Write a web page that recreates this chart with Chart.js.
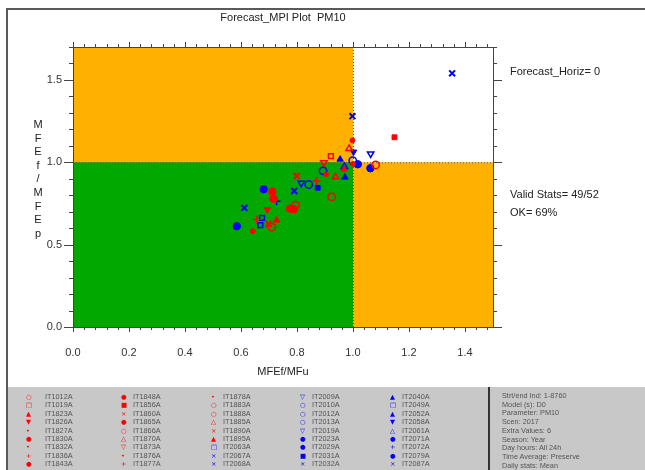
<!DOCTYPE html>
<html>
<head>
<meta charset="utf-8">
<script src="https://cdn.jsdelivr.net/npm/chart.js@4.4.0/dist/chart.umd.min.js"></script>
<style>
  body { margin: 0; background: #fff; font-family: "Liberation Sans", Arial, sans-serif; }
  #wrap { position: relative; width: 645px; height: 470px; overflow: hidden; background: #fff; }
  #myChart { position: absolute; left: 0; top: 0; }
  .txt { position: absolute; font-size: 11px; color: #222; white-space: nowrap; }
  #frameL { position: absolute; left: 6px; top: 8px; width: 2px; height: 462px; background: #5a5a5a; }
  #frameT { position: absolute; left: 6px; top: 8px; width: 639px; height: 2px; background: #5a5a5a; }
  #legendBox { position: absolute; left: 8px; top: 387px; width: 637px; height: 83px; background: #c8c8c8; }
  #divider { position: absolute; left: 488px; top: 387px; width: 2px; height: 83px; background: #333; }
  .lg { position: absolute; font-size: 7.3px; color: #555; line-height: 8px; white-space: nowrap; }
  .mk { position: absolute; font-family: "DejaVu Sans", sans-serif; font-size: 6.5px; line-height: 8px; }
</style>
</head>
<body>
<div id="wrap">
  <canvas id="myChart" width="645" height="385"></canvas>
  <div id="frameL"></div>
  <div id="frameT"></div>
  <div class="txt" style="left:0;width:566px;text-align:center;top:11px;">Forecast_MPI Plot&nbsp; PM10</div>
  <div class="txt" style="left:32px;width:12px;text-align:center;top:118px;line-height:13.6px;white-space:normal;">M<br>F<br>E<br>f<br>/<br>M<br>F<br>E<br>p</div>
  <div class="txt" style="left:0;width:566px;text-align:center;top:365px;">MFEf/MFu</div>
  <div class="txt" style="left:510px;top:65px;">Forecast_Horiz= 0</div>
  <div class="txt" style="left:510px;top:188px;">Valid Stats= 49/52</div>
  <div class="txt" style="left:510px;top:206px;">OK= 69%</div>
  <div id="legendBox"></div>
  <div id="divider"></div>
  <div id="legend"></div>
  <div id="info"></div>
</div>
<script>
// stations shown in the legend
const stations = [
  'IT1012A', 'IT1019A', 'IT1823A', 'IT1826A', 'IT1827A', 'IT1830A', 'IT1832A', 'IT1836A', 'IT1843A',
  'IT1848A', 'IT1856A', 'IT1860A', 'IT1865A', 'IT1866A', 'IT1870A', 'IT1873A', 'IT1876A', 'IT1877A',
  'IT1878A', 'IT1883A', 'IT1888A', 'IT1885A', 'IT1890A', 'IT1895A', 'IT2063A', 'IT2067A', 'IT2068A',
  'IT2009A', 'IT2010A', 'IT2012A', 'IT2013A', 'IT2019A', 'IT2023A', 'IT2029A', 'IT2031A', 'IT2032A',
  'IT2040A', 'IT2049A', 'IT2052A', 'IT2058A', 'IT2061A', 'IT2071A', 'IT2072A', 'IT2079A', 'IT2087A'
];

// MFEf/MFu (x) and MFEf/MFEp (y) per station
const mfeRatioX = [
  0.924, 0.921, 0.968, 0.694, 0.998, 0.712, 1.000, 0.870, 0.775,
  0.789, 1.148, 0.799, 0.716, 0.710, 0.986, 0.896, 0.904, 0.656,
  0.642, 1.081, 0.795, 0.938, 0.698, 0.727, 0.675, 0.790, 0.612,
  1.063, 0.999, 0.893, 0.842, 0.815, 0.681, 1.062, 0.874, 0.998,
  0.954, 0.669, 0.971, 1.002, 0.969, 1.017, 0.727, 0.585, 1.354
];
const mfeRatioY = [
  0.790, 1.038, 0.958, 0.713, 1.133, 0.822, 0.990, 0.887, 0.719,
  0.715, 1.152, 0.917, 0.778, 0.606, 1.083, 0.998, 0.927, 0.653,
  0.582, 0.984, 0.739, 0.911, 0.626, 0.648, 0.663, 0.826, 0.723,
  1.052, 1.010, 0.948, 0.865, 0.873, 0.836, 0.964, 0.845, 1.280,
  1.018, 0.618, 0.909, 1.063, 0.974, 0.988, 0.764, 0.612, 1.540
];

const xTickLabels = [0.0, 0.2, 0.4, 0.6, 0.8, 1.0, 1.2, 1.4];
const yTickLabels = [0.0, 0.5, 1.0, 1.5];
const thresholdX = 1.0;
const thresholdY = 1.0;

const infoLines = [
  'Strt/end Ind: 1-8760', 'Model (s): D0', 'Parameter: PM10', 'Scen: 2017', 'Extra Values: 6',
  'Season: Year', 'Day hours: All 24h', 'Time Average: Preserve', 'Daily stats: Mean'
];

// marker styles
const red = '#ff0000', blue = '#0000ff';
const stationColor = [
  red, red, red, red, red, red, red, red, red,
  red, red, red, red, red, red, red, red, red,
  red, red, red, red, red, red, blue, blue, blue,
  blue, blue, blue, blue, blue, blue, blue, blue, blue,
  blue, blue, blue, blue, blue, blue, blue, blue, blue
];
const stationShape = [
  'circleH', 'rectH', 'triangle', 'tridown', 'dot', 'circle', 'dot', 'cross', 'circle',
  'circle', 'rect', 'x', 'circle', 'circleH', 'triangleH', 'tridownH', 'dot', 'cross',
  'dot', 'circleH', 'circleH', 'triangleH', 'x', 'triangle', 'rectH', 'x', 'x',
  'tridownH', 'circleH', 'circleH', 'circleH', 'tridownH', 'circle', 'circle', 'rect', 'x',
  'triangle', 'rectH', 'triangle', 'tridown', 'triangleH', 'circle', 'cross', 'circle', 'x'
];
const glyphs = {
  circle: '●', circleH: '○', rect: '■', rectH: '□', triangle: '▲', triangleH: '△',
  tridown: '▼', tridownH: '▽', x: '×', cross: '+', dot: '•'
};

function styleFor(shape, color) {
  const hollow = shape.endsWith('H');
  const base = hollow ? shape.slice(0, -1) : shape;
  let pointStyle = base, rotation = 0, radius = 3.7, width = hollow ? 1.5 : 1;
  if (base === 'tridown') { pointStyle = 'triangle'; rotation = 180; }
  if (base === 'x') { pointStyle = 'crossRot'; radius = 4.2; width = 2; }
  if (base === 'cross') { radius = 4; width = 1.5; }
  if (base === 'dot') { pointStyle = 'circle'; radius = 2.4; }
  if (base === 'rect') radius = 3.4;
  return {
    pointStyle: pointStyle,
    rotation: rotation,
    pointRadius: radius,
    borderWidth: width,
    borderColor: color,
    backgroundColor: hollow ? 'transparent' : color
  };
}

const datasets = stations.map((name, i) => Object.assign({
  label: name,
  data: [{ x: mfeRatioX[i], y: mfeRatioY[i] }]
}, styleFor(stationShape[i], stationColor[i])));

// quadrant colours behind the points
const quadrants = {
  id: 'quadrants',
  beforeDatasetsDraw(chart) {
    const { ctx, chartArea: a, scales: { x, y } } = chart;
    const px = x.getPixelForValue(thresholdX), py = y.getPixelForValue(thresholdY);
    ctx.save();
    ctx.fillStyle = '#ffb000';
    ctx.fillRect(a.left, a.top, a.right - a.left, a.bottom - a.top);
    ctx.fillStyle = '#00a800';
    ctx.fillRect(a.left, py, px - a.left, a.bottom - py);
    ctx.fillStyle = '#ffffff';
    ctx.fillRect(px, a.top, a.right - px, py - a.top);
    ctx.strokeStyle = '#555';
    ctx.lineWidth = 1;
    ctx.setLineDash([1, 2]);
    ctx.beginPath();
    ctx.moveTo(px + 0.5, a.top); ctx.lineTo(px + 0.5, a.bottom);
    ctx.moveTo(a.left, py + 0.5); ctx.lineTo(a.right, py + 0.5);
    ctx.stroke();
    ctx.restore();
  }
};

// frame and tick marks on all four sides
const frame = {
  id: 'frame',
  afterDraw(chart) {
    const { ctx, chartArea: a, scales: { x, y } } = chart;
    ctx.save();
    ctx.strokeStyle = '#444';
    ctx.lineWidth = 1;
    ctx.beginPath();
    ctx.moveTo(a.left + 0.5, a.top); ctx.lineTo(a.left + 0.5, a.bottom);
    ctx.moveTo(a.left, a.bottom + 0.5); ctx.lineTo(a.right + 8, a.bottom + 0.5);
    ctx.moveTo(a.left, a.top + 0.5); ctx.lineTo(a.right, a.top + 0.5);
    ctx.moveTo(a.right + 0.5, a.top); ctx.lineTo(a.right + 0.5, a.bottom);
    for (let k = 0; k <= 37; k++) {
      const v = k * 0.04;
      const p = Math.round(x.getPixelForValue(v)) + 0.5;
      const major = k % 5 === 0;
      ctx.moveTo(p, a.bottom); ctx.lineTo(p, a.bottom + (major ? 5 : 3));
      ctx.moveTo(p, a.top); ctx.lineTo(p, a.top - (major ? 5 : 3));
    }
    for (let k = 0; k <= 17; k++) {
      const v = k * 0.1;
      const p = Math.round(y.getPixelForValue(v)) + 0.5;
      const major = k % 5 === 0;
      ctx.moveTo(a.left, p); ctx.lineTo(a.left - (major ? 9 : 4), p);
      ctx.moveTo(a.right, p); ctx.lineTo(a.right + (major ? 9 : 4), p);
    }
    ctx.stroke();
    ctx.restore();
  }
};

const tickFont = { family: '"Liberation Sans", Arial, sans-serif', size: 11 };

const config = {
  type: 'scatter',
  data: { datasets: datasets },
  options: {
    responsive: false,
    animation: false,
    layout: { padding: { top: 47, right: 152, left: 0, bottom: 0 } },
    plugins: { legend: { display: false }, tooltip: { enabled: false } },
    scales: {
      x: {
        type: 'linear', min: 0, max: 1.5,
        afterFit(s) { s.height = 58; },
        afterBuildTicks(s) { s.ticks = xTickLabels.map(v => ({ value: v })); },
        grid: { display: false, drawTicks: false },
        border: { display: false },
        ticks: { padding: 19, color: '#333', font: tickFont, autoSkip: false, maxRotation: 0,
          callback: v => Number(v).toFixed(1) }
      },
      y: {
        type: 'linear', min: 0, max: 1.7,
        afterFit(s) { s.width = 73; },
        afterBuildTicks(s) { s.ticks = yTickLabels.map(v => ({ value: v })); },
        grid: { display: false, drawTicks: false },
        border: { display: false },
        ticks: { padding: 11, color: '#333', font: tickFont, autoSkip: false,
          callback: v => Number(v).toFixed(1) }
      }
    }
  },
  plugins: [quadrants, frame]
};

const myChart = new Chart(document.getElementById('myChart'), config);

// station legend at the bottom
const markX = [26, 121, 211, 300, 390];
const textX = [45, 133, 223, 312, 402];
let html = '';
stations.forEach((name, i) => {
  const col = Math.floor(i / 9), row = i % 9;
  const top = 393 + row * 8.4;
  html += '<div class="mk" style="left:' + markX[col] + 'px;top:' + top + 'px;color:' + stationColor[i] + '">' + glyphs[stationShape[i]] + '</div>';
  html += '<div class="lg" style="left:' + textX[col] + 'px;top:' + top + 'px">' + name + '</div>';
});
document.getElementById('legend').innerHTML = html;

let info = '';
infoLines.forEach((line, i) => {
  info += '<div class="lg" style="left:502px;top:' + (392 + i * 8.7) + 'px">' + line + '</div>';
});
document.getElementById('info').innerHTML = info;
</script>
</body>
</html>
